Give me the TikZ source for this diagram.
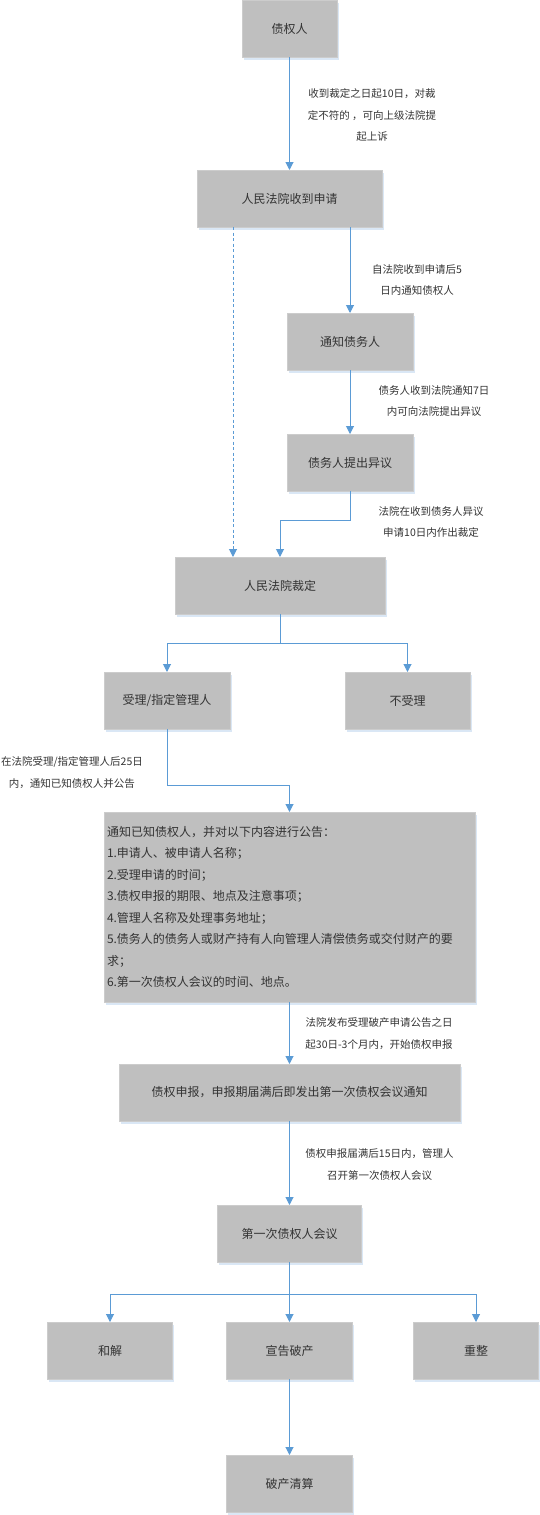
\documentclass[tikz,border=0pt]{standalone}
\usepackage{fontspec}
\setmainfont{Noto Sans CJK SC}
\usetikzlibrary{arrows.meta, positioning, shadows}
\definecolor{boxgray}{RGB}{191,191,191}
\definecolor{edgegray}{RGB}{204,204,204}
\definecolor{shadowblue}{RGB}{218,231,245}
\definecolor{flowblue}{RGB}{91,155,213}
\definecolor{textgray}{RGB}{51,51,51}

\begin{document}
\begin{tikzpicture}[
    box/.style={rectangle, draw=edgegray, fill=boxgray, minimum height=57pt, minimum width=#1, inner sep=3pt, outer sep=0pt, align=center, text=textgray, font=\fontsize{12pt}{14pt}\selectfont, drop shadow={shadow xshift=1.5pt, shadow yshift=-2.5pt, fill=shadowblue, opacity=1}},
    box/.default=126pt,
    flow/.style={-{Triangle[width=8pt, length=8pt]}, draw=flowblue, line width=1pt},
    flowdash/.style={flow, dash pattern=on 3pt off 2.5pt},
    remark/.style={align=center, text=textgray, font=\fontsize{10.5pt}{21.5pt}\selectfont}
]
\useasboundingbox (0,0) rectangle (540pt,-1515pt);

% Application
\node[box=95pt] (creditor) at (289.5pt,-28.5pt) {债权人};
\node[box=185pt, below=113pt of creditor] (received) {人民法院收到申请};
\node[box, below=86pt of received, xshift=60.5pt] (notify) {通知债务人};
\node[box, below=64pt of notify] (objection) {债务人提出异议};
\node[box=210pt, below=66pt of objection, xshift=-70pt] (ruling) {人民法院裁定};

% Ruling outcome
\node[box, below=58pt of ruling, xshift=-113pt] (accept) {受理/指定管理人};
\node[box=125pt, below=58pt of ruling, xshift=127.5pt] (reject) {不受理};

% Announcement
\node[box=371pt, minimum height=190pt, text width=365pt, align=left, font=\fontsize{12pt}{21.5pt}\selectfont, below=83pt of accept, xshift=122.5pt] (notice) {通知已知债权人，并对以下内容进行公告：\\
1.申请人、被申请人名称；\\
2.受理申请的时间；\\
3.债权申报的期限、地点及注意事项；\\
4.管理人名称及处理事务地址；\\
5.债务人的债务人或财产持有人向管理人清偿债务或交付财产的要\\
求；\\
6.第一次债权人会议的时间、地点。};

% Claims and meeting
\node[box=341pt, below=62pt of notice] (claims) {债权申报，申报期届满后即发出第一次债权会议通知};
\node[box=144pt, below=84pt of claims] (meeting) {第一次债权人会议};
\node[box, below=60pt of meeting] (bankrupt) {宣告破产};
\node[box=125pt, left=54pt of bankrupt] (settle) {和解};
\node[box=125pt, right=61pt of bankrupt] (reorg) {重整};
\node[box, below=76pt of bankrupt] (liquidate) {破产清算};

% Connectors
\coordinate (dashtop) at ([xshift=36pt]received.south west);
\draw[flow] (creditor) -- (received);
\draw[flowdash] (dashtop) -- (dashtop |- ruling.north);
\draw[flow] (notify.north |- received.south) -- (notify);
\draw[flow] (notify) -- (objection);
\draw[flow] (objection.south) -- ++(0,-29pt) -| (ruling.north);
\draw[flow] (ruling.south) -- ++(0,-29pt) -| (accept.north);
\draw[flow] (ruling.south) -- ++(0,-29pt) -| (reject.north);
\draw[flow] (accept.south) -- ++(0,-56pt) -| (notice.north);
\draw[flow] (notice) -- (claims);
\draw[flow] (claims) -- (meeting);
\draw[flow] (meeting.south) -- ++(0,-32pt) -| (settle.north);
\draw[flow] (meeting) -- (bankrupt);
\draw[flow] (meeting.south) -- ++(0,-32pt) -| (reorg.north);
\draw[flow] (bankrupt) -- (liquidate);

% Time limits
\node[remark] (limit1) at (372pt,-115.5pt) {收到裁定之日起10日，对裁\\定不符的 ，可向上级法院提\\起上诉};
\node[remark] (limit2) at (417pt,-280pt) {自法院收到申请后5\\日内通知债权人};
\node[remark] (limit3) at (434pt,-401pt) {债务人收到法院通知7日\\内可向法院提出异议};
\node[remark] (limit4) at (431pt,-522pt) {法院在收到债务人异议\\申请10日内作出裁定};
\node[remark] (limit5) at (72pt,-772.5pt) {在法院受理/指定管理人后25日\\内，通知已知债权人并公告};
\node[remark] (limit6) at (379pt,-1033.5pt) {法院发布受理破产申请公告之日\\起30日-3个月内，开始债权申报};
\node[remark] (limit7) at (379.5pt,-1164.5pt) {债权申报届满后15日内，管理人\\召开第一次债权人会议};

\end{tikzpicture}
\end{document}
